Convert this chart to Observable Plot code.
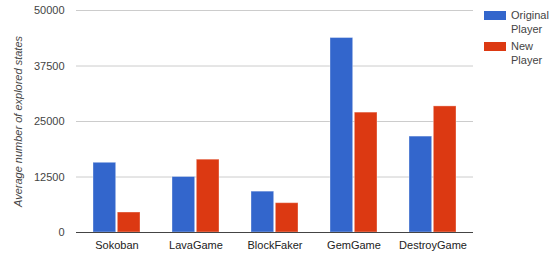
<!DOCTYPE html>
<html>
<head>
<meta charset="utf-8">
<script src="https://cdn.jsdelivr.net/npm/d3@7"></script>
<script src="https://cdn.jsdelivr.net/npm/@observablehq/plot@0.6"></script>
<style>
  html, body { margin: 0; padding: 0; background: #fff; }
  #wrap { position: relative; width: 558px; height: 257px; font-family: Arial, "Liberation Sans", sans-serif; }
  #wrap svg g[aria-label="y-axis label"] text { font-style: italic; }
  .legend { position: absolute; left: 484px; top: 0; font-size: 11px; line-height: 14px; color: #444; }
  .item { position: absolute; left: 0; width: 80px; }
  .sw { position: absolute; left: 0; width: 22px; height: 9px; }
  .tx { position: absolute; left: 27px; white-space: nowrap; }
</style>
</head>
<body>
<div id="wrap"></div>
<script>
const categories = ["Sokoban", "LavaGame", "BlockFaker", "GemGame", "DestroyGame"];
const originalPlayer = [15700, 12500, 9200, 43800, 21600];
const newPlayer = [4500, 16400, 6600, 27000, 28400];
const series = ["Original Player", "New Player"];
const colors = ["#3366cc", "#dc3912"];
const yTicks = [0, 12500, 25000, 37500, 50000];

const W = 558, H = 257, mL = 76, mR = 85, mT = 10, mB = 25;
const step = (W - mL - mR) / (categories.length - 0.4 + 0.4);
const half = step * 0.6 / 2;

const rows = categories.map((c, i) => ({category: c, original: originalPlayer[i], newp: newPlayer[i]}));

const chart = Plot.plot({
  width: W, height: H,
  marginLeft: mL, marginRight: mR, marginTop: mT, marginBottom: mB,
  style: {fontFamily: 'Arial, "Liberation Sans", sans-serif', fontSize: "11px", color: "#444", background: "#fff"},
  x: {domain: categories, paddingInner: 0.4, paddingOuter: 0.2},
  y: {domain: [0, 50000]},
  marks: [
    Plot.ruleY(yTicks.slice(1), {stroke: "#cccccc", strokeOpacity: 1}),
    Plot.barY(rows, {x: "category", y: "original", fill: colors[0], insetRight: half + 0.5, stroke: "#fff", strokeOpacity: 0.35, strokeWidth: 1}),
    Plot.barY(rows, {x: "category", y: "newp", fill: colors[1], insetLeft: half + 0.5, stroke: "#fff", strokeOpacity: 0.35, strokeWidth: 1}),
    Plot.ruleY([0], {stroke: "#444", strokeWidth: 1}),
    Plot.axisY({ticks: yTicks, tickFormat: d3.format("d"), tickSize: 0, tickPadding: 12, fill: "#444",
      label: "Average number of explored states", labelAnchor: "center", labelArrow: "none", labelOffset: 62}),
    Plot.axisX({tickSize: 0, tickPadding: 9, fill: "#222", label: null})
  ]
});

const wrap = document.getElementById("wrap");
wrap.appendChild(chart);

const legend = document.createElement("div");
legend.className = "legend";
const words = series.map(s => s.split(" "));
words.forEach((w, i) => {
  const item = document.createElement("div");
  item.className = "item";
  item.style.top = (8 + i * 31) + "px";
  const sw = document.createElement("div");
  sw.className = "sw";
  sw.style.background = colors[i];
  sw.style.top = "3px";
  const tx = document.createElement("div");
  tx.className = "tx";
  tx.innerHTML = w.join("<br>");
  item.appendChild(sw);
  item.appendChild(tx);
  legend.appendChild(item);
});
wrap.appendChild(legend);
</script>
</body>
</html>
